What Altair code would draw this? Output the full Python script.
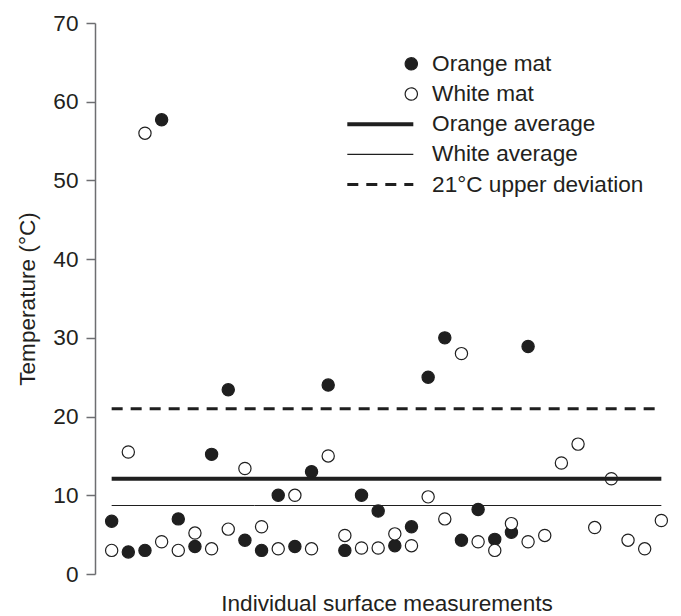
import altair as alt
import pandas as pd

# ---- data ----
orange_temp = [6.7, 2.8, 3.0, 57.7, 7.0, 3.5, 15.2, 23.4, 4.3, 3.0, 10.0, 3.5, 13.0,
               24.0, 3.0, 10.0, 8.0, 3.6, 6.0, 25.0, 30.0, 4.3, 8.2, 4.4, 5.3, 28.9]
white_temp = [3.0, 15.5, 56.0, 4.1, 3.0, 5.2, 3.2, 5.7, 13.4, 6.0, 3.2, 10.0, 3.2,
              15.0, 4.9, 3.3, 3.3, 5.1, 3.6, 9.8, 7.0, 28.0, 4.1, 3.0, 6.4, 4.1,
              4.9, 14.1, 16.5, 5.9, 12.1, 4.3, 3.2, 6.8]
series_names = ["Orange mat", "White mat", "Orange average", "White average",
                "21°C upper deviation"]
line_values = [12.1, 8.7, 21.0]
y_ticks = [0, 10, 20, 30, 40, 50, 60, 70]

points = pd.DataFrame({
    "idx": list(range(len(orange_temp))) + list(range(len(white_temp))),
    "temp": orange_temp + white_temp,
    "series": ["Orange mat"] * len(orange_temp) + ["White mat"] * len(white_temp),
})
n = max(len(orange_temp), len(white_temp))
lines = pd.DataFrame({
    "series": series_names[2:],
    "value": line_values,
    "start": [0] * len(line_values),
    "end": [n - 1] * len(line_values),
})

INK = "#1f1f1f"
FONT = "Liberation Sans"
FS = 22.6
line_path = "M-10.45,0L0.33,0"

fill_scale = alt.Scale(domain=series_names,
                       range=[INK, "#ffffff", INK, INK, INK])
shape_scale = alt.Scale(domain=series_names,
                        range=["circle", "circle", line_path, line_path, line_path])
sw_scale = alt.Scale(type="ordinal", domain=series_names,
                     range=[1.2, 1.2, 4, 1.2, 3])
dash_scale = alt.Scale(domain=series_names,
                       range=[[1, 0], [1, 0], [1, 0], [1, 0], [11, 8]])

x_enc = alt.X("idx:Q", scale=alt.Scale(domain=[-1, 34], nice=False, zero=False),
              axis=alt.Axis(domain=False, ticks=False, labels=False, grid=False,
                            title="Individual surface measurements",
                            titleY=36.5, titleBaseline="alphabetic"))
y_axis = alt.Axis(values=y_ticks, tickSize=9, grid=False, labelPadding=8,
                  title="Temperature (°C)", titleX=-68, titleY=275.5,
                  titleAngle=270, titleBaseline="middle", titleAlign="center")
y_scale = alt.Scale(domain=[0, 70], nice=False)

pts = alt.Chart(points).mark_point(
    filled=True, stroke=INK, strokeWidth=1.2, size=150, opacity=1
).encode(
    x=x_enc,
    y=alt.Y("temp:Q", scale=y_scale, axis=y_axis),
    fill=alt.Fill("series:N", scale=fill_scale, legend=alt.Legend(title=None)),
    shape=alt.Shape("series:N", scale=shape_scale, legend=alt.Legend(title=None)),
)

rules = alt.Chart(lines).mark_rule(stroke=INK).encode(
    x=alt.X("start:Q"),
    x2="end:Q",
    y=alt.Y("value:Q"),
    strokeWidth=alt.StrokeWidth("series:N", scale=sw_scale, legend=alt.Legend(title=None)),
    strokeDash=alt.StrokeDash("series:N", scale=dash_scale, legend=alt.Legend(title=None)),
)

chart = alt.layer(pts, rules).properties(
    width=583, height=551,
    autosize=alt.AutoSizeParams(type="none"),
    padding={"left": 95, "top": 23, "right": 3, "bottom": 42},
).configure_view(stroke=None).configure_axis(
    labelFont=FONT, titleFont=FONT, labelFontSize=FS, titleFontSize=FS,
    titleFontWeight="normal", labelColor="#231f20", titleColor="#231f20",
    domainColor="#6d6e71", tickColor="#6d6e71", domainWidth=1.5, tickWidth=1.5,
).configure_legend(
    orient="none", legendX=305, legendY=29.5, padding=0,
    labelFont=FONT, labelFontSize=FS, labelColor="#231f20", labelLimit=400,
    labelOffset=9.5, rowPadding=7.2, symbolSize=150,
)

chart.save("out.html", embed_options={"renderer": "svg", "actions": False})
